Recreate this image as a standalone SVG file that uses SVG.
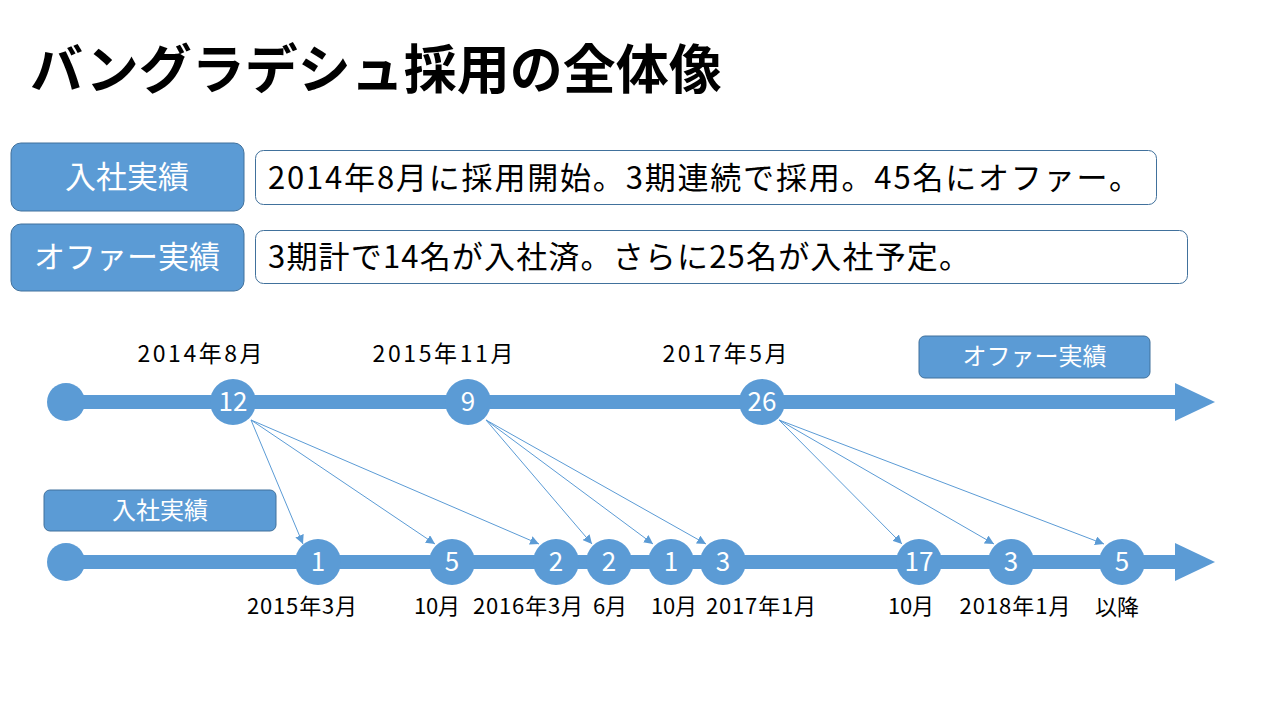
<svg xmlns="http://www.w3.org/2000/svg" width="1280" height="720" viewBox="0 0 1280 720">
<style>
text{font-family:"Noto Sans CJK JP","Noto Sans",sans-serif}
.title{font-size:53px;font-weight:bold;fill:#000}
.lbox{fill:#5B9BD5;stroke:#41719C;stroke-width:1}
.wbox{fill:#fff;stroke:#41719C;stroke-width:1}
.lt{font-size:31px;fill:#fff;text-anchor:middle}
.st{font-size:24px;fill:#fff;text-anchor:middle}
.bt{font-size:31px;fill:#000}
.axis{stroke:#5B9BD5;stroke-width:14}
.head{fill:#5B9BD5}
.node{fill:#5B9BD5}
.num{font-size:26px;fill:#fff;text-anchor:middle}
.date{font-size:22px;fill:#000;text-anchor:middle}
.dtop{font-size:23px;fill:#000;text-anchor:middle}
.conn{stroke:#5B9BD5;stroke-width:1;fill:none;marker-end:url(#ah)}
</style>
<defs>
<marker id="ah" viewBox="0 0 10 10" refX="10" refY="5" markerWidth="9" markerHeight="9" markerUnits="userSpaceOnUse" orient="auto">
<path d="M0,0 L10,5 L0,10 z" fill="#5B9BD5"/>
</marker>
</defs>
<rect width="1280" height="720" fill="#fff"/>
<text class="title" x="30" y="89">バングラデシュ採用の全体像</text>

<g id="box-nyusha">
<rect class="lbox" x="11" y="143" width="233" height="68" rx="10"/>
<text class="lt" x="127" y="188">入社実績</text>
</g>
<g id="box-offer">
<rect class="lbox" x="11" y="224" width="233" height="67" rx="10"/>
<text class="lt" x="127" y="268">オファー実績</text>
</g>
<g id="desc-1">
<rect class="wbox" x="255.5" y="150.5" width="901" height="54" rx="8"/>
<text class="bt" x="268" y="189" textLength="872" lengthAdjust="spacing">2014年8月に採用開始。3期連続で採用。45名にオファー。</text>
</g>
<g id="desc-2">
<rect class="wbox" x="255.5" y="230.5" width="932" height="53" rx="8"/>
<text class="bt" x="268" y="268" textLength="702" lengthAdjust="spacing">3期計で14名が入社済。さらに25名が入社予定。</text>
</g>

<g id="timeline-offer">
<line class="axis" x1="66" y1="402" x2="1180" y2="402"/>
<polygon class="head" points="1175,383 1215,402 1175,421"/>
<circle class="node" cx="66" cy="402" r="19"/>
</g>
<g id="label-offer">
<rect class="lbox" x="919" y="336" width="231" height="42" rx="6"/>
<text class="st" x="1034.5" y="365">オファー実績</text>
</g>
<g id="o12"><circle class="node" cx="233" cy="402" r="23"/><text class="num" x="233" y="411">12</text><text class="dtop" x="200" y="362" textLength="125" lengthAdjust="spacing">2014年8月</text></g>
<g id="o9"><circle class="node" cx="468" cy="402" r="23"/><text class="num" x="468" y="411">9</text><text class="dtop" x="443" y="362" textLength="141" lengthAdjust="spacing">2015年11月</text></g>
<g id="o26"><circle class="node" cx="762" cy="402" r="23"/><text class="num" x="762" y="411">26</text><text class="dtop" x="725" y="362" textLength="125" lengthAdjust="spacing">2017年5月</text></g>

<g id="timeline-join">
<line class="axis" x1="66" y1="562" x2="1180" y2="562"/>
<polygon class="head" points="1175,543 1215,562 1175,581"/>
<circle class="node" cx="66" cy="562" r="19"/>
</g>
<g id="label-join">
<rect class="lbox" x="44" y="490" width="232" height="41" rx="6"/>
<text class="st" x="160" y="519">入社実績</text>
</g>
<g id="j1"><circle class="node" cx="318" cy="562" r="23"/><text class="num" x="318" y="571">1</text><text class="date" x="302" y="614" textLength="110" lengthAdjust="spacing">2015年3月</text></g>
<g id="j2"><circle class="node" cx="452" cy="562" r="23"/><text class="num" x="452" y="571">5</text><text class="date" x="437" y="614" textLength="46" lengthAdjust="spacing">10月</text></g>
<g id="j3"><circle class="node" cx="556" cy="562" r="23"/><text class="num" x="556" y="571">2</text><text class="date" x="528" y="614" textLength="110" lengthAdjust="spacing">2016年3月</text></g>
<g id="j4"><circle class="node" cx="609" cy="562" r="23"/><text class="num" x="609" y="571">2</text><text class="date" x="610" y="614">6月</text></g>
<g id="j5"><circle class="node" cx="671" cy="562" r="23"/><text class="num" x="671" y="571">1</text><text class="date" x="674" y="614" textLength="46" lengthAdjust="spacing">10月</text></g>
<g id="j6"><circle class="node" cx="723" cy="562" r="23"/><text class="num" x="723" y="571">3</text><text class="date" x="761" y="614" textLength="110" lengthAdjust="spacing">2017年1月</text></g>
<g id="j7"><circle class="node" cx="919" cy="562" r="23"/><text class="num" x="919" y="571">17</text><text class="date" x="911" y="614" textLength="46" lengthAdjust="spacing">10月</text></g>
<g id="j8"><circle class="node" cx="1011" cy="562" r="23"/><text class="num" x="1011" y="571">3</text><text class="date" x="1015" y="614" textLength="111" lengthAdjust="spacing">2018年1月</text></g>
<g id="j9"><circle class="node" cx="1122" cy="562" r="23"/><text class="num" x="1122" y="571">5</text><text class="date" x="1117" y="615">以降</text></g>

<g id="connectors">
<line class="conn" x1="251" y1="420" x2="303" y2="544"/>
<line class="conn" x1="251" y1="420" x2="435" y2="544"/>
<line class="conn" x1="251" y1="420" x2="539" y2="544"/>
<line class="conn" x1="486" y1="420" x2="592" y2="544"/>
<line class="conn" x1="486" y1="420" x2="653" y2="544"/>
<line class="conn" x1="486" y1="420" x2="706" y2="544"/>
<line class="conn" x1="779" y1="420" x2="902" y2="544"/>
<line class="conn" x1="779" y1="420" x2="994" y2="544"/>
<line class="conn" x1="779" y1="420" x2="1104" y2="544"/>
</g>
</svg>
